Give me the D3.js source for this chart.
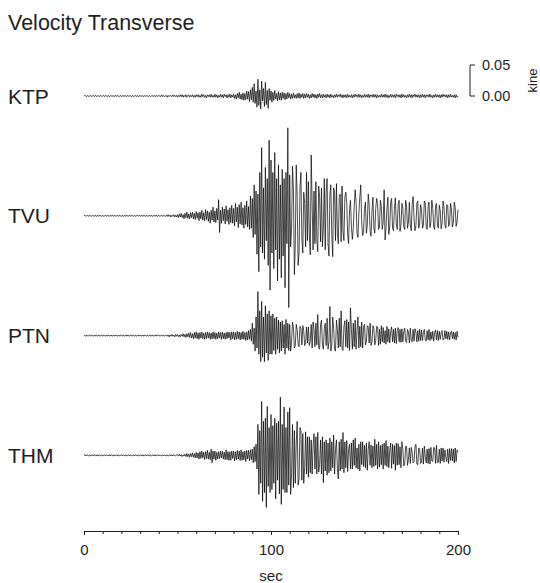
<!DOCTYPE html>
<html>
<head>
<meta charset="utf-8">
<script src="https://cdn.jsdelivr.net/npm/d3@7"></script>
<style>
  body { margin: 0; background: #fff; }
  svg text { font-family: "Liberation Sans", Arial, sans-serif; fill: #1e1e1e; }
</style>
</head>
<body>
<div id="vis"></div>
<script>
// Velocity Transverse - record section, 4 stations
// samples every 0.5 sec from 0 to 200 sec, values in 1e-3 kine

var stations = [ "KTP", "TVU", "PTN", "THM" ];
var timeSpan = [ 0, 200 ];
var xTickLabels = [ 0, 100, 200 ];
var scaleBarValues = [ 0, 50 ];   // 0.00 .. 0.05 kine

var ktp = [
   0,  1,  0, -1,  1, -1,  0,  1, -1,  0,  1, -1,  1,  0, -1,  1, -1,  0,  1, -1,
   0,  1, -1,  1,  0, -1,  1, -1,  0,  1, -1,  1, -1,  0,  1, -1,  1,  0, -1,  1,
  -1,  0,  1, -1,  1, -1,  0,  1, -1,  1,  0, -1,  1, -1,  0,  1, -1,  1, -1,  0,
   1, -1,  1,  0, -1,  1, -1,  1,  0, -1,  1, -1,  0,  1, -1,  1, -1,  0,  1, -1,
   1,  0, -1,  2, -1,  1, -1,  0,  1, -2,  1, -1,  1,  0, -1,  2, -1,  1, -1,  1,
  -2,  1, -1,  2, -1,  2, -2,  1, -1,  2, -2,  1,  2, -2,  1, -1,  2, -2,  1, -2,
   2, -1,  2, -2,  1, -2,  3, -1,  2, -2,  1, -3,  2, -1,  2, -2,  3, -2,  1, -2,
   3, -2,  2, -3,  1, -2,  3, -2,  2, -3,  3, -1,  2, -3,  2, -2,  3, -3,  2, -2,
   3, -4,  2, -5,  4, -3,  6, -5,  3, -6,  5, -7,  4, -6,  8, -5,  7, -9, 10, -6,
  14,-10, 20,-12,  8,-18, 27,-15, 10,-21, 24, -8, 12,-17, 22,-14,  9,-20, 12, -7,
   8,-10,  6, -7,  9, -5,  4, -8,  7, -6,  5, -7,  6, -4,  5, -6,  4, -5,  6, -3,
   4, -5,  3, -4,  5, -3,  2, -4,  4, -3,  5, -4,  3, -2,  4, -4,  3, -3,  4, -2,
   3, -4,  2, -3,  4, -2,  3, -3,  2, -4,  3, -2,  4, -3,  2, -3,  3, -2,  2, -3,
   3, -2,  2, -3,  3, -2,  1, -3,  2, -2,  3, -2,  2, -1,  3, -2,  2, -3,  2, -2,
   2, -3,  3, -2,  1, -2,  2, -3,  2, -2,  3, -1,  2, -2,  3, -2,  2, -3,  1, -2,
   3, -2,  2, -2,  3, -3,  2, -1,  2, -2,  3, -2,  2, -3,  2, -2,  1, -2,  3, -2,
   2, -2,  3, -2,  2, -3,  1, -2,  3, -2,  2, -2,  2, -3,  3, -1,  2, -2,  2, -3,
   3, -2,  2, -2,  1, -3,  2, -2,  3, -2,  2, -3,  2, -1,  3, -2,  2, -2,  2, -3,
   2, -2,  3, -2,  2, -3,  2, -1,  2, -2,  3, -2,  1, -3,  2, -2,  3, -2,  2, -2,
   2, -3,  2, -2,  3, -1,  2, -2,  2, -3,  2, -2,  3, -2,  1, -2,  2, -3,  2, -2,
   0
];

var tvu = [
   0,  1, -1,  0,  1, -1,  1,  0, -1,  1,  0, -1,  1, -1,  0,  1, -1,  1,  0, -1,
   1, -1,  0,  1, -1,  1,  0, -1,  1, -1,  1,  0, -1,  1, -1,  0,  1, -1,  1,  0,
  -1,  1, -1,  0,  1, -1,  1, -1,  0,  1, -1,  1,  0, -1,  1, -1,  0,  1, -1,  1,
   0, -1,  1, -1,  1,  0, -1,  1, -1,  0,  1, -1,  1, -1,  0,  1, -1,  1,  0, -1,
   1, -1,  0,  1, -1,  1,  0, -1,  1, -1,  2, -1,  1, -2,  1, -1,  2, -2,  1, -2,
   2, -3,  3, -2,  4, -3,  2, -5,  4, -3,  6, -4,  3, -5,  5, -3,  6, -5,  4, -6,
   7, -4,  5, -8,  6, -5,  9, -7,  5, -8, 10, -6,  8, -9,  6,-12,  9, -7, 14,-10,
   8,-11, 12, -7, 26,-27,  9,-12, 14, -8, 11,-13, 16, -9, 10,-14, 13,-11, 17,-12,
  12,-16, 20,-10, 14,-19, 18,-13, 22,-15, 13,-20, 17,-14, 24,-18, 15,-22, 32,-20,
  28,-35, 50,-30, 40,-62, 35,-90, 70,-50,110,-60, 45,-70, 78,-40, 60,-80,122,-120,
  90,-60, 70,-85,102,-55, 60,-105,82,-70, 50,-100,75,-65, 60,-116,70,-45,142,-148,
  66,-50,-20, 80, 40,-95,-45, 82, 30,-80,-60, 45, 70,-35,-60, 38, 20,-50, 70,-40,
  55,-30,-63, 98, 20,-55, 40,-45, 55,-38,-58, 48, 30,-42, 45,-50,-20, 60,-55, 40,
  60,-45,-65, 35, 50,-30,-66, 45, 38,-40, 52,-28,-45, 30, 35,-42, 48,-25,-40, 30,
  38, 20,-30,-45, 10, 25,-18,-38,-20, 15, 42, 22,-28,-35,  5, 30, 50,-10,-32,-25,
  12, 22,-28,-15, 35, 18,-25,-33,  8, 30,-20,-28, 12, 28, 20,-22,-18, 25, 15,-22,
 -10, 42,-39,-20, 12, 30,-30,-18, 22, 28,-20,-24, 10, 29,-12,-22, 18, 25,-25,-15,
  20, 12,-18,-22, 25, 16,-20,-10, 22,-15,-24, 18, 31, -5,-24,-16, 20, 24,-20,-12,
  18, 10,-20,-15, 24, 20,-18,-22, 15, 22,-19,-10, 25, 12,-18,-22, 16, 20,-15,-20,
  17,  8,-21,-12, 24, 15,-15,-20, 18, 16,-17,-14, 20, 10,-18,-12, 22, 14,-17,-10,
  10
];

var ptn = [
   1,  0, -1,  1, -1,  0,  1, -1,  1,  0, -1,  1, -1,  1,  0, -1,  1, -1,  0,  1,
  -1,  1,  0, -1,  1, -1,  1,  0, -1,  1, -1,  0,  1, -1,  1,  0, -1,  1, -1,  1,
   0, -1,  1, -1,  0,  1, -1,  1, -1,  0,  1, -1,  1,  0, -1,  1, -1,  0,  1, -1,
   1,  0, -1,  1, -1,  1,  0, -1,  1, -1,  0,  1, -1,  1, -1,  0,  1, -1,  1,  0,
   1, -1,  0,  1, -1,  1, -1,  0,  1, -1,  1, -2,  1, -1,  2, -1,  1, -2,  2, -1,
   2, -2,  1, -2,  2, -1,  3, -2,  2, -3,  3, -2,  4, -3,  5, -4,  3, -5,  5, -4,
   6, -5,  4, -6,  5, -4,  6, -5,  4, -6,  5, -5,  6, -4,  5, -6,  4, -5,  6, -5,
   5, -6,  4, -5,  6, -4,  5, -6,  6, -5,  4, -6,  5, -5,  6, -4,  5, -7,  6, -5,
   6, -7,  5, -6,  7, -5,  6, -7,  5, -6,  7, -6,  5, -8,  6, -7,  8, -6, 10, -9,
  20,-14, 12,-25, 30,-20, 71,-30, 40,-42, 55,-35, 30,-42, 48,-28, 35,-40, 40,-30,
  32,-30, 35,-24, 28,-30, 30,-22, 25,-28, 22,-25, 24,-20, 18,-30, 26,-20, 20,-24,
  18,-25,-10, 22, 12,-20,-16, 18, 10,-14,-18, 15, 12,-15, 16,  8,-16,-12, 14,-12,
  14,-16, -8, 18,-20, 22, 10,-18, 20,-15, 34,-20,-22, 18, 25,-15,-22, 12, 20,-16,
  28,-22,-10, 47,-25,-15, 30, 12,-22,-25, 25, 10,-20, 28,-18, 40,-22,-24, 15, 24,
 -18, 26,-20, 22,-24, 45, 10,-22, 20,-18, 25,-22,  8, 30,-20, 15,-18, 22,-20, 14,
  18,-15,-10, 16, 14,-12, 20,-16,-10, 16, 12,-15, -8, 15, 14,-16, 10,-14, 16,-10,
  13,-12,  8,-14, 15,-10, 11,-12,  6, 14,-10, 10,-12, 12,-13,  8, 13,-10, 10,-11,
  11,-10,  6, 12, -9,-11, 10,  6,-12, 12, -8,-10, 10, -9, 11,  5,-10,  8, -9, 10,
  -8,  9, -8,  5, 10, -7, -9,  8, -7, 10, -8,  6, -6,  7, -9,  5,  9, -7,  8, -8,
   7, -6,  5,  8, -7, -6,  8, -5,  7, -6,  6, -7,  5,  7, -5,  6, -6,  5, -7,  7,
  -3
];

var thm = [
   0,  1, -1,  1,  0, -1,  1, -1,  0,  1, -1,  1,  0, -1,  1, -1,  1,  0, -1,  1,
  -1,  0,  1, -1,  1,  0, -1,  1, -1,  1,  0, -1,  1, -1,  0,  1, -1,  1, -1,  0,
   1, -1,  1,  0, -1,  1, -1,  0,  1, -1,  1,  0, -1,  1, -1,  1,  0, -1,  1, -1,
   0,  1, -1,  1, -1,  0,  1, -1,  1,  0, -1,  1, -1,  0,  1, -1,  1, -1,  0,  1,
  -1,  1,  0, -1,  1, -1,  1,  0, -1,  1, -1,  0,  1, -1,  1, -1,  1,  0, -1,  1,
   1, -1,  2, -1,  1, -2,  1, -1,  2, -2,  3, -2,  2, -3,  3, -2,  4, -3,  3, -4,
   5, -4,  4, -6,  6, -5,  7, -4,  5, -7,  6, -5,  8, -6,  5, -7, 10,-12,  7, -6,
   7, -8,  5, -6,  6, -5,  7, -4,  7, -6,  5, -7,  9, -7,  6, -8,  6, -8,  7, -5,
   7, -9,  6, -7,  8, -6,  7, -8,  9, -8,  6, -7,  7,-10,  8, -6,  8, -9,  9, -7,
  10,-12, 14,-10, 18,-22, 50,-63, 40,-45, 87,-74, 55,-60, 60,-84, 79,-50, 45,-60,
  66,-55, 48,-45, 60,-70, 52,-40, 55,-62, 94,-79, 50,-55, 78,-60, 45,-60, 70,-48,
  77,-63,-30, 50,-52, 40,-45, 20, 55,-48,-38, 45, 40,-40, 35,-45,-20, 38,-30, 30,
 -35, 30,-28, 25,-30, 15, 35,-22, 30,-30, 37,-27,-15, 25,-30, 30,-44, 22,-25, 25,
 -32, 20,-28, 28,-25, 22,-20, 33,-30, 10, 25,-22,-38, 22,-25, 26,-22, 37,-28, 22,
 -20, 24,-26, 10, 18,-22, 20,-22, 25,-16, 28,-20, 12,-22, 18,-25, 22,-15, 22,-18,
  16,-20, 20,-24, 10, 22,-16, 17,-20, 15,-18, 26,-16, 18,-22, 22,-19, 16,-15, 18,
 -22, 20,-16, 24,-18, 15,-20,  8, 20,-21, 18,-14, 16,-24, 20,-16, 19,-15, 14,-20,
  22, 10,-17,-14, 15, 14,-16, -6, 12,-13, 13,  5,-12,-10, 15, 18,-14,-15, 12, 10,
 -13,-11, 12,-14, 15, -2,-12, 10,-13, 11,-14, 13, -9,-10, 13, 12,-13, 16,-12,-11,
  10,-13, 12, -9, 12,-11,  9, -4,-10, 10,-13, 11, -8, 11, -9, 10,-12, 12,-10,  9,
   5
];

var traces = [ ktp, tvu, ptn, thm ];

// dimensions
var width = 540, height = 583;
var x0 = 84, x1 = 458;
var firstBase = 96, spacing = 119.8;

var svg = d3.select( "#vis" ).append( "svg" )
    .attr( "width", width )
    .attr( "height", height );

// time scale
var x = d3.scaleLinear().domain( timeSpan ).range( [ x0, x1 ] );

// amplitude scale (1e-3 kine -> px offset from the trace baseline)
var amp = d3.scaleLinear().domain( [ -200, 200 ] ).range( [ 124, -124 ] );

// sample i of a trace sits at i * dt, dt taken from the trace length
function traceLine( values )
{
    var dt = ( timeSpan[ 1 ] - timeSpan[ 0 ] ) / ( values.length - 1 );
    return d3.line()
        .x( function( d, i ) { return x( timeSpan[ 0 ] + i * dt ); } )
        .y( function( d ) { return amp( d ); } )( values );
}

// title
svg.append( "text" )
    .attr( "x", 8 )
    .attr( "y", 30 )
    .style( "font-size", "21.5px" )
    .text( "Velocity Transverse" );

// one group per station
var rows = svg.selectAll( "g.station" )
    .data( traces )
    .enter().append( "g" )
    .attr( "class", "station" )
    .attr( "transform", function( d, i ) { return "translate(0," + ( firstBase + i * spacing ) + ")"; } );

rows.append( "path" )
    .attr( "d", traceLine )
    .attr( "fill", "none" )
    .attr( "stroke", "#000" )
    .attr( "stroke-width", 0.7 )
    .attr( "stroke-linejoin", "round" );

rows.append( "text" )
    .attr( "x", 8 )
    .attr( "y", 0 )
    .attr( "dy", "0.36em" )
    .style( "font-size", "21px" )
    .text( function( d, i ) { return stations[ i ]; } );

// scale bar next to the first trace
var bar = svg.append( "g" )
    .attr( "transform", "translate(470," + firstBase + ")" );

bar.append( "path" )
    .attr( "d", "M5," + amp( scaleBarValues[ 1 ] ) + "H0V" + amp( scaleBarValues[ 0 ] ) + "H5" )
    .attr( "fill", "none" )
    .attr( "stroke", "#1e1e1e" )
    .attr( "stroke-width", 1 );

bar.selectAll( "text.lab" )
    .data( scaleBarValues )
    .enter().append( "text" )
    .attr( "class", "lab" )
    .attr( "x", 12 )
    .attr( "y", function( d ) { return amp( d ); } )
    .attr( "dy", "0.36em" )
    .style( "font-size", "14.5px" )
    .text( function( d ) { return d3.format( ".2f" )( d / 1000 ); } );

bar.append( "text" )
    .attr( "transform", "translate(67," + amp( 25 ) + ") rotate(-90)" )
    .style( "text-anchor", "middle" )
    .style( "font-size", "13px" )
    .text( "kine" );

// x axis
var axis = svg.append( "g" )
    .attr( "transform", "translate(0,531)" )
    .style( "color", "#1e1e1e" )
    .call( d3.axisBottom( x )
        .tickValues( d3.range( 0, 201, 10 ) )
        .tickSize( 4 )
        .tickSizeOuter( 4 )
        .tickPadding( 9 )
        .tickFormat( function( d ) { return xTickLabels.indexOf( d ) >= 0 ? d : ""; } ) );

axis.selectAll( ".tick" )
    .filter( function( d ) { return xTickLabels.indexOf( d ) < 0; } )
    .select( "line" )
    .attr( "y2", 3 );

axis.selectAll( "text" )
    .style( "font-size", "15px" )
    .style( "font-family", "Liberation Sans, Arial, sans-serif" )
    .attr( "fill", "#1e1e1e" );

// text label for the x axis
svg.append( "text" )
    .attr( "x", x( 100 ) )
    .attr( "y", 581 )
    .style( "text-anchor", "middle" )
    .style( "font-size", "15px" )
    .text( "sec" );
</script>
</body>
</html>
